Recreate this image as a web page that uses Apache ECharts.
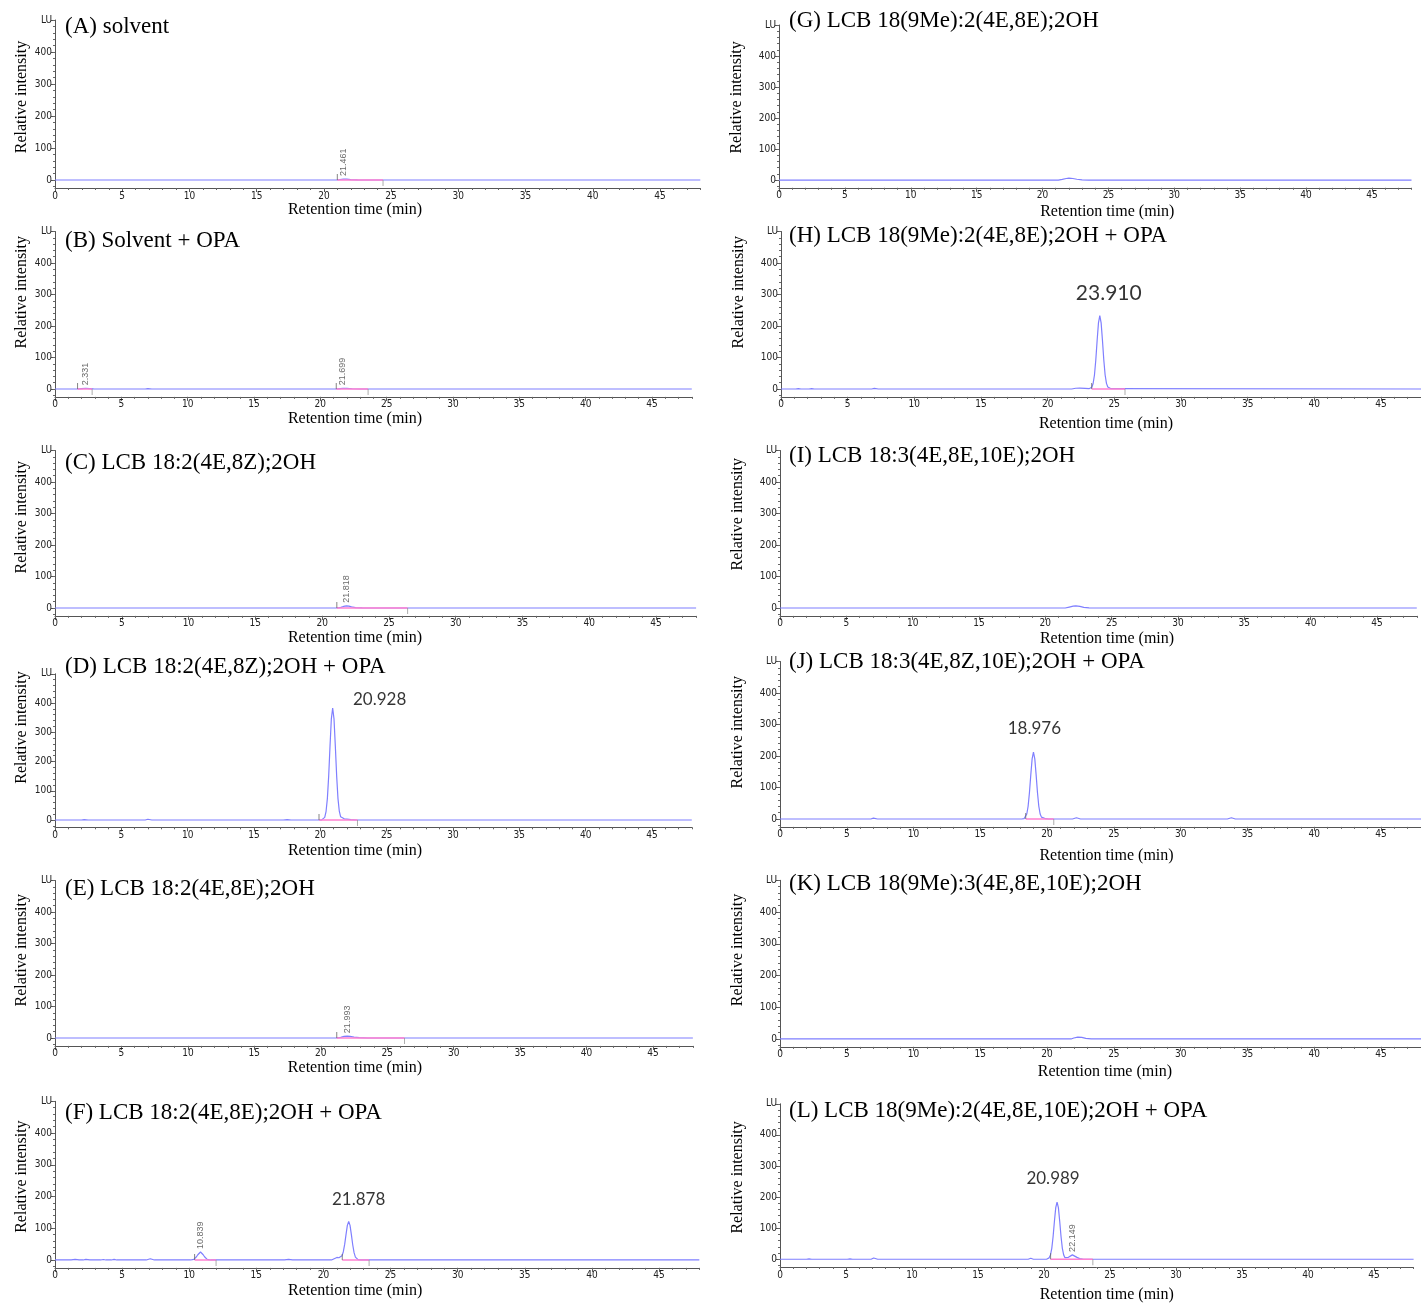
<!DOCTYPE html>
<html><head><meta charset="utf-8">
<script src="https://cdn.jsdelivr.net/npm/echarts@6/dist/echarts.min.js"></script>
<style>html,body{margin:0;padding:0;background:#fff}#c{width:1421px;height:1304px}</style>
</head><body><div id="c"></div>
<script>
// ---------- DATA ----------
const panelTitles = [
  '(A) solvent',
  '(B) Solvent + OPA',
  '(C) LCB 18:2(4E,8Z);2OH',
  '(D) LCB 18:2(4E,8Z);2OH + OPA',
  '(E) LCB 18:2(4E,8E);2OH',
  '(F) LCB 18:2(4E,8E);2OH + OPA',
  '(G) LCB 18(9Me):2(4E,8E);2OH',
  '(H) LCB 18(9Me):2(4E,8E);2OH + OPA',
  '(I) LCB 18:3(4E,8E,10E);2OH',
  '(J) LCB 18:3(4E,8Z,10E);2OH + OPA',
  '(K) LCB 18(9Me):3(4E,8E,10E);2OH',
  '(L) LCB 18(9Me):2(4E,8E,10E);2OH + OPA'
];
const xAxisTitle = 'Retention time (min)';
const yAxisTitle = 'Relative intensity';
const xMajorTicks = [0,5,10,15,20,25,30,35,40,45];
const xMinorTicks = [0,1,2,3,4,5,6,7,8,9,10,11,12,13,14,15,16,17,18,19,20,21,22,23,24,25,26,27,28,29,30,31,32,33,34,35,36,37,38,39,40,41,42,43,44,45,46,47,48];
const yMajorTicks = [0,100,200,300,400,500];
const yMinorTicks = [-20,0,20,40,60,80,100,120,140,160,180,200,220,240,260,280,300,320,340,360,380,400,420,440,460,480,500];
const yTopLabel = 'LU';

// chromatogram traces [time (min), intensity (LU)]
const traceA = [[0,0],[21.0,0],[21.2,1.5],[21.46,3],[21.7,2.5],[22.0,1],[22.5,0.3],[23.0,0],[48,0]];
const traceB = [[0,0],[1.7,0],[2.0,1.5],[2.33,2.5],[2.6,1.5],[2.9,0.3],[3.3,0],[6.8,0],[7.0,1.5],[7.3,0],[21.2,0],[21.5,1.5],[21.7,2.5],[22.0,2],[22.4,0.8],[23.0,0],[48,0]];
const traceC = [[0,0],[21.1,0],[21.4,2],[21.6,5],[21.82,7],[22.0,6],[22.2,3.5],[22.5,1.5],[23.0,0.5],[23.6,0],[48,0]];
const traceD = [[0,0],[2.0,0],[2.2,1.5],[2.5,0],[6.8,0],[7.0,2.5],[7.3,0],[17.2,0],[17.5,1],[17.8,0],[19.9,0],[20.1,0.5],[20.23,2],[20.33,9],[20.43,29],[20.53,73],[20.63,151],[20.73,253],[20.83,346],[20.93,383],[21.03,346],[21.13,253],[21.23,151],[21.33,73],[21.43,30],[21.53,11],[21.63,5],[21.8,4],[22.0,3],[22.3,1.5],[22.7,0],[48,0]];
const traceE = [[0,0],[21.2,0],[21.5,2],[21.75,5],[21.99,6],[22.2,5],[22.5,3],[22.9,1],[23.5,0],[48,0]];
const traceF = [[0,0],[1.2,0],[1.5,2],[1.8,0],[2.1,0],[2.3,2],[2.6,0],[3.4,0],[3.6,1.5],[3.8,0],[4.2,0],[4.4,2],[4.6,0],[6.8,0],[7.1,4],[7.4,0],[10.1,0],[10.24,0.6],[10.34,2],[10.44,5],[10.54,10],[10.64,16.5],[10.74,22.5],[10.84,25],[10.94,22.5],[11.04,16.5],[11.14,10],[11.24,5],[11.34,2],[11.44,0.6],[11.6,0],[17.1,0],[17.4,2],[17.7,0],[20.6,0],[20.8,4],[21.0,8],[21.15,7],[21.28,6],[21.38,13],[21.48,26],[21.58,49],[21.68,80],[21.78,109],[21.88,121],[21.98,109],[22.08,80],[22.18,48],[22.28,23],[22.38,9],[22.48,3],[22.58,1],[22.8,0],[48,0]];
const traceG = [[0,0],[21.2,0],[21.5,2],[21.8,5],[22.0,6],[22.3,5],[22.6,2.5],[23.0,0.5],[23.5,0],[48,0]];
const traceH = [[0,0],[1.1,0],[1.3,1.5],[1.5,0],[2.1,0],[2.3,1.5],[2.5,0],[6.8,0],[7.0,2],[7.3,0],[21.8,0],[22.1,2.5],[22.4,3],[22.8,2],[23.1,1],[23.21,1.4],[23.31,5.6],[23.41,17.7],[23.51,44.5],[23.61,92],[23.71,154],[23.81,210],[23.91,233],[24.01,210],[24.11,154],[24.21,92],[24.31,44.5],[24.41,18],[24.51,6.5],[24.61,2.5],[24.75,1],[24.9,0],[48,0]];
const traceI = [[0,0],[21.5,0],[21.8,3],[22.1,6],[22.3,7],[22.6,5],[22.9,2],[23.3,0.5],[23.8,0],[48,0]];
const traceJ = [[0,0],[6.8,0],[7.0,3],[7.3,0],[18.1,0],[18.28,1.3],[18.38,5],[18.48,16],[18.58,40.5],[18.68,84],[18.78,140],[18.88,191],[18.98,212],[19.08,191],[19.18,140],[19.28,84],[19.38,40.5],[19.48,16],[19.58,6],[19.7,2.5],[19.9,1],[20.1,0],[21.9,0],[22.2,4],[22.5,0],[33.5,0],[33.8,4],[34.1,0],[48,0]];
const traceK = [[0,0],[21.8,0],[22.0,3],[22.3,6],[22.6,5],[22.9,2],[23.3,0],[48,0]];
const traceL = [[0,0],[2.0,0],[2.2,1],[2.4,0],[5.1,0],[5.3,1],[5.5,0],[6.9,0],[7.1,4],[7.4,0],[18.8,0],[19.0,3],[19.2,0],[20.19,0],[20.29,1.1],[20.39,4.4],[20.49,14],[20.59,35],[20.69,73],[20.79,122],[20.89,166],[20.99,184],[21.09,166],[21.19,122],[21.29,73],[21.39,35],[21.49,14],[21.59,5],[21.7,2],[21.85,6],[22.0,11],[22.15,14],[22.3,11],[22.5,6],[22.7,2],[23.0,0],[48,0]];

// integration baselines [start, end] (min)
const baseA = [[21.0,24.4]];
const baseB = [[1.7,2.8],[21.2,23.6]];
const baseC = [[21.1,26.4]];
const baseD = [[19.9,22.8]];
const baseE = [[21.2,26.3]];
const baseF = [[10.4,12.0],[21.4,23.4]];
const baseG = [];
const baseH = [[23.3,25.8]];
const baseI = [];
const baseJ = [[18.4,20.5]];
const baseK = [];
const baseL = [[20.5,23.7]];

// small (vertical) retention-time labels [time, apex]
const smallA = [[21.461,3]];
const smallB = [[2.331,2.5],[21.699,2.5]];
const smallC = [[21.818,7]];
const smallD = [];
const smallE = [[21.993,6]];
const smallF = [[10.839,25]];
const smallG = [], smallH = [], smallI = [], smallJ = [], smallK = [];
const smallL = [[22.149,14]];

// large retention-time labels [time, apex]
const bigA = [], bigB = [], bigC = [], bigE = [], bigG = [], bigI = [], bigK = [];
const bigD = [[20.928,383]];
const bigF = [[21.878,121]];
const bigH = [[23.910,233]];
const bigJ = [[18.976,212]];
const bigL = [[20.989,184]];

const traces = [traceA,traceB,traceC,traceD,traceE,traceF,traceG,traceH,traceI,traceJ,traceK,traceL];
const bases = [baseA,baseB,baseC,baseD,baseE,baseF,baseG,baseH,baseI,baseJ,baseK,baseL];
const smalls = [smallA,smallB,smallC,smallD,smallE,smallF,smallG,smallH,smallI,smallJ,smallK,smallL];
const bigs = [bigA,bigB,bigC,bigD,bigE,bigF,bigG,bigH,bigI,bigJ,bigK,bigL];

// ---------- LAYOUT / STYLE ----------
const layout = [
 {l:55,w:645.3,t:20,h:168,tx:65,ty:27,xg:6,xs:-22.6,ys:7,yg:25},
 {l:55,w:636.8,t:231.5,h:165.4,tx:65,ty:241,xg:11,xs:-18.4,ys:22,yg:25},
 {l:55,w:641.1,t:450.5,h:165.4,tx:65,ty:463,xg:4,xs:-20.5,ys:16,yg:25},
 {l:55,w:636.8,t:673.8,h:153.5,tx:65,ty:667,xg:15,xs:-18.4,ys:23,yg:25,bo:[47,-8],bf:17},
 {l:55,w:637.9,t:880.5,h:165.4,tx:65,ty:889,xg:9,xs:-19,ys:13,yg:25},
 {l:55,w:644.3,t:1101.3,h:166.6,tx:65,ty:1113,xg:15,xs:-22,ys:8,yg:25,bo:[10,-22],bf:17},
 {l:779,w:632.5,t:25,h:162.8,tx:789,ty:21,xg:16,xs:12,ys:9,yg:34},
 {l:781,w:642.1,t:231.5,h:165.4,tx:789,ty:236,xg:19,xs:5,ys:22,yg:34,bo:[9,-22],bf:21},
 {l:780,w:636.8,t:450.5,h:165.4,tx:789,ty:456,xg:15,xs:8.6,ys:19,yg:34},
 {l:780,w:642.1,t:661.5,h:165.4,tx:789,ty:662,xg:21,xs:6,ys:12,yg:34,bo:[1,-24],bf:17},
 {l:780,w:645.3,t:880.3,h:166.6,tx:789,ty:884,xg:17,xs:4.4,ys:13.6,yg:34},
 {l:780,w:633.6,t:1103.8,h:164,tx:789,ty:1111,xg:20,xs:10,ys:8,yg:34,bo:[-4,-24],bf:17}
];
const tickFont = "'DejaVu Sans Condensed','Liberation Sans Narrow','Liberation Sans',sans-serif";
const serif = "'Liberation Serif','DejaVu Serif',serif";
const traceColor = '#7f7fff';
const baseColor = '#ff80d0';

const grid=[], xAxis=[], yAxis=[], series=[], title=[];
layout.forEach((L,i)=>{
  grid.push({left:L.l, top:L.t, width:L.w, height:L.h, show:false});
  title.push({text:panelTitles[i], left:L.tx, top:L.ty-12, padding:0,
    textStyle:{fontFamily:serif, fontSize:23, fontWeight:'normal', color:'#000'}});
  const xs=L.xs, ys=L.ys;
  xAxis.push({type:'value', gridIndex:i, min:0, max:48, position:'bottom',
    axisLine:{show:true,onZero:false,lineStyle:{color:'#555',width:1}},
    axisTick:{show:true,customValues:xMajorTicks,length:4,lineStyle:{color:'#555'}},
    axisLabel:{show:true,customValues:xMajorTicks,fontSize:10,color:'#222',margin:3,fontFamily:tickFont},
    splitLine:{show:false},
    name:xAxisTitle, nameLocation:'middle', nameGap:L.xg,
    nameTextStyle:{fontFamily:serif,fontSize:16,color:'#000',padding: xs>0?[0,0,0,2*xs]:[0,-2*xs,0,0]}
  });
  xAxis.push({type:'value', gridIndex:i, min:0, max:48, position:'bottom',
    axisLine:{show:false,onZero:false},
    axisTick:{show:true,customValues:xMinorTicks,length:2,lineStyle:{color:'#666'}},
    axisLabel:{show:false}, splitLine:{show:false}});
  yAxis.push({type:'value', gridIndex:i, min:-25, max:500, position:'left',
    axisLine:{show:true,onZero:false,lineStyle:{color:'#555',width:1}},
    axisTick:{show:true,customValues:yMajorTicks,length:4,lineStyle:{color:'#555'}},
    axisLabel:{show:true,customValues:yMajorTicks,fontSize:10,color:'#222',margin:3,fontFamily:tickFont,
      formatter:v=> v===500 ? yTopLabel : String(v)},
    splitLine:{show:false},
    name:yAxisTitle, nameLocation:'middle', nameGap:L.yg,
    nameTextStyle:{fontFamily:serif,fontSize:16,color:'#000',padding:[0,0,0,2*ys]}
  });
  yAxis.push({type:'value', gridIndex:i, min:-25, max:500, position:'left',
    axisLine:{show:false,onZero:false},
    axisTick:{show:true,customValues:yMinorTicks,length:2,lineStyle:{color:'#666'}},
    axisLabel:{show:false}, splitLine:{show:false}});

  const xi=2*i, yi=2*i;
  series.push({type:'line', xAxisIndex:xi, yAxisIndex:yi, data:traces[i], symbol:'none',
    lineStyle:{color:traceColor,width:1.2}, z:2, silent:true});
  bases[i].forEach(seg=>{
    series.push({type:'line', xAxisIndex:xi, yAxisIndex:yi, data:[[seg[0],0],[seg[1],0]], symbol:'none',
      lineStyle:{color:baseColor,width:1.5}, z:3, silent:true});
  });
  if (bases[i].length){
    series.push({type:'scatter', xAxisIndex:xi, yAxisIndex:yi, data:bases[i].map(s=>[s[0],0]),
      symbol:'rect', symbolSize:[1,6], symbolOffset:[0,-3], itemStyle:{color:'#666'}, z:4, silent:true});
    series.push({type:'scatter', xAxisIndex:xi, yAxisIndex:yi, data:bases[i].map(s=>[s[1],0]),
      symbol:'rect', symbolSize:[1,6], symbolOffset:[0,3], itemStyle:{color:'#999'}, z:4, silent:true});
  }
  if (smalls[i].length){
    series.push({type:'scatter', xAxisIndex:xi, yAxisIndex:yi, data:smalls[i], symbolSize:0, z:5, silent:true,
      label:{show:true, position:'top', distance:3, rotate:90, align:'left', verticalAlign:'middle',
        formatter:p=>p.value[0].toFixed(3), fontSize:9, color:'#444', fontFamily:"'Liberation Sans',sans-serif"}});
  }
  if (bigs[i].length){
    series.push({type:'scatter', xAxisIndex:xi, yAxisIndex:yi, data:bigs[i], symbolSize:0, z:5, silent:true,
      label:{show:true, position:'inside', offset:L.bo, align:'center', verticalAlign:'middle',
        formatter:p=>p.value[0].toFixed(3), fontSize:L.bf, color:'#000', fontFamily:"Lato,'Open Sans',sans-serif"}});
  }
});

const chart = echarts.init(document.getElementById('c'), null, {renderer:'canvas'});
chart.setOption({animation:false, backgroundColor:'#fff', title, grid, xAxis, yAxis, series});
</script></body></html>
